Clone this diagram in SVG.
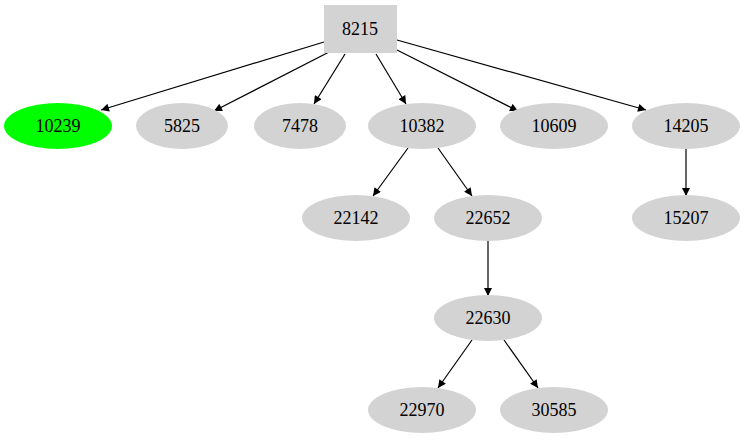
<svg xmlns="http://www.w3.org/2000/svg" width="746" height="443" viewBox="0 0 746 443">
<style>
.n{fill:#d3d3d3;stroke:none}
.t{font-family:"Liberation Serif",serif;font-size:18px;text-anchor:middle;fill:#000}
.e{stroke:#000;stroke-width:1.2;fill:none;marker-end:url(#a)}
</style>
<defs><marker id="a" viewBox="0 0 10 10" refX="10" refY="5" markerWidth="10" markerHeight="8" markerUnits="userSpaceOnUse" orient="auto"><path d="M0,0L10,5L0,10z" fill="#000"/></marker></defs>
<rect width="746" height="443" fill="#fff"/>
<g id="edges">
<path class="e" d="M324,42L101,110"/>
<path class="e" d="M333,50L214,111"/>
<path class="e" d="M345,54L314,104"/>
<path class="e" d="M376,54L406,104"/>
<path class="e" d="M397,50L518,111"/>
<path class="e" d="M397,40L646,110"/>
<path class="e" d="M408,148L373,196"/>
<path class="e" d="M438,148L472,196"/>
<path class="e" d="M686,148L686,196"/>
<path class="e" d="M488,240L488,296"/>
<path class="e" d="M472,340L438,388"/>
<path class="e" d="M504,340L538,388"/>
</g>
<g id="n8215"><rect class="n" x="324" y="5" width="73" height="48"/><text class="t" x="360" y="35">8215</text></g>
<g id="n10239"><ellipse cx="58" cy="126" rx="54" ry="23" fill="#00ff00"/><text class="t" x="58" y="132">10239</text></g>
<g id="n5825"><ellipse class="n" cx="182" cy="126" rx="46" ry="23"/><text class="t" x="182" y="132">5825</text></g>
<g id="n7478"><ellipse class="n" cx="300" cy="126" rx="46" ry="23"/><text class="t" x="300" y="132">7478</text></g>
<g id="n10382"><ellipse class="n" cx="422" cy="126" rx="54" ry="23"/><text class="t" x="422" y="132">10382</text></g>
<g id="n10609"><ellipse class="n" cx="554" cy="126" rx="54" ry="23"/><text class="t" x="554" y="132">10609</text></g>
<g id="n14205"><ellipse class="n" cx="686" cy="126" rx="54" ry="23"/><text class="t" x="686" y="132">14205</text></g>
<g id="n22142"><ellipse class="n" cx="356" cy="218" rx="54" ry="23"/><text class="t" x="356" y="224">22142</text></g>
<g id="n22652"><ellipse class="n" cx="488" cy="218" rx="54" ry="23"/><text class="t" x="488" y="224">22652</text></g>
<g id="n15207"><ellipse class="n" cx="686" cy="218" rx="54" ry="23"/><text class="t" x="686" y="224">15207</text></g>
<g id="n22630"><ellipse class="n" cx="488" cy="318" rx="54" ry="23"/><text class="t" x="488" y="324">22630</text></g>
<g id="n22970"><ellipse class="n" cx="422" cy="410" rx="54" ry="23"/><text class="t" x="422" y="416">22970</text></g>
<g id="n30585"><ellipse class="n" cx="554" cy="410" rx="54" ry="23"/><text class="t" x="554" y="416">30585</text></g>
</svg>
